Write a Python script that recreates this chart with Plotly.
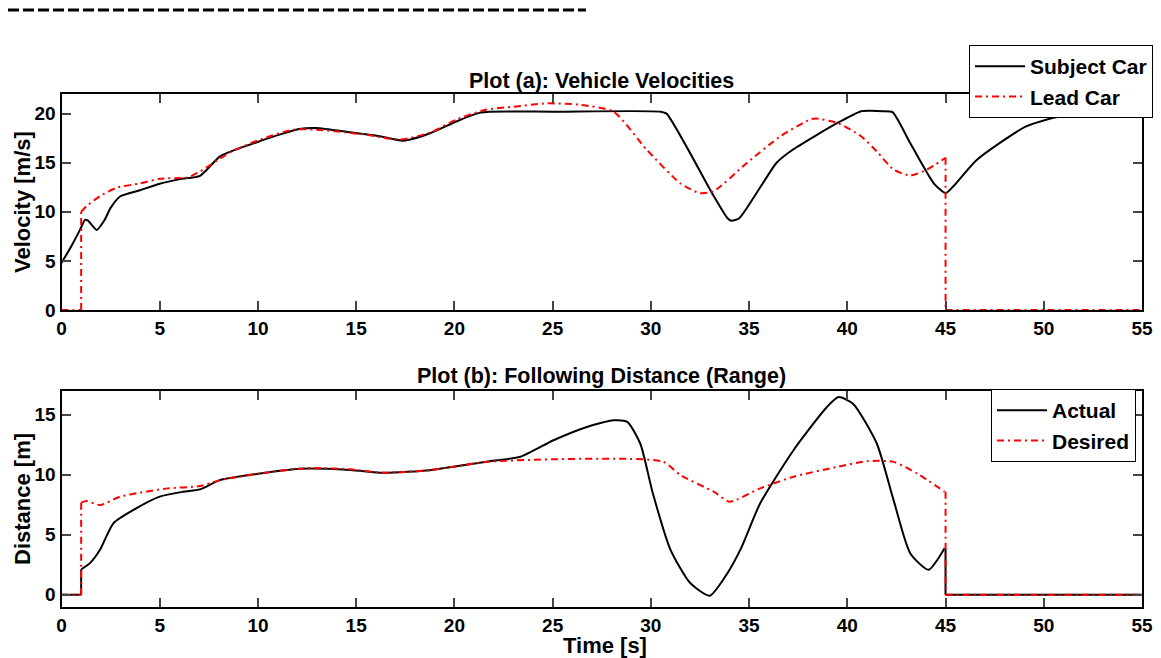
import plotly.graph_objects as go

# ---------------- data ----------------
# Plot (a): velocities [m/s]
subject_t = [0, 0.5, 0.94, 1.2, 1.35, 1.79, 2.2, 2.5, 2.98, 4.0, 5.0, 6.03, 7.05, 8.07, 9.09,
             10.1, 11.1, 12.1, 12.96, 14.7, 16.2, 17.4, 18.76, 20.1, 21.3, 21.8, 25.0, 30.5,
             30.8, 33.2, 33.9, 34.1, 34.5, 35.6, 36.4, 37.2, 39.5, 40.7, 41.2, 41.8, 42.3, 43.2, 44.4,
             45.0, 45.4, 46.6, 49.1, 50.8, 52.5, 55.0]
subject_v = [4.8, 6.5, 8.16, 9.18, 9.1, 8.16, 9.2, 10.4, 11.56, 12.2, 12.86, 13.33, 13.67, 15.65, 16.5,
             17.2, 17.86, 18.44, 18.54, 18.1, 17.7, 17.25, 18.0, 19.2, 20.1, 20.2, 20.2, 20.2,
             20.0, 11.6, 9.35, 9.1, 9.35, 12.6, 15.0, 16.3, 19.05, 20.25, 20.3, 20.25, 20.15, 17.0, 12.9,
             11.9, 12.6, 15.3, 18.7, 19.7, 20.0, 20.1]

# lead car: None separates the step segments (0 -> jump at 1 s -> smooth -> drop at 45 s -> 0)
lead_t = [0, 1, None, 1, 1, None,
          1, 1.28, 1.96, 2.8, 4.0, 5.0, 6.4, 7.05, 8.58, 10.1, 11.8, 12.96, 15.5, 17.2, 18.8,
          20.1, 21.6, 23.0, 24.7, 26.4, 28.1, 29.8, 31.5, 32.5, 33.2, 34.9, 36.6, 38.1, 38.4,
          39.5, 40.7, 41.5, 42.35, 43.2, 44.05, 45.0, None,
          45, 45, None, 45, 55]
lead_v = [0, 0, None, 0, 10, None,
          10, 10.6, 11.6, 12.45, 12.9, 13.37, 13.5, 14.1, 16.05, 17.35, 18.37, 18.37, 17.86, 17.35, 18.1,
          19.4, 20.4, 20.7, 21.05, 20.9, 20.2, 16.3, 12.9, 11.9, 12.1, 15.0, 17.7, 19.4, 19.5,
          19.05, 17.7, 16.15, 14.3, 13.7, 14.3, 15.5, None,
          15.5, 0, None, 0, 0]

# Plot (b): following distance [m]
actual_t = [0, 1, None, 1, 1, None,
            1, 1.45, 1.96, 2.64, 3.66, 5.0, 6.2, 7.05, 8.07, 10.1, 12.1, 14.7, 16.4, 18.76,
            20.1, 21.8, 23.35, 25.04, 26.74, 28.1, 28.8, 29.46, 30.1, 31.0, 32.0, 33.0, 33.9,
            34.6, 35.56, 37.26, 38.96, 39.55, 40.3, 41.5, 42.35, 43.2, 44.13, 44.95, None,
            45, 45, None, 45, 55]
actual_d = [0, 0, None, 0, 2.1, None,
            2.1, 2.63, 3.74, 5.95, 7.06, 8.17, 8.58, 8.78, 9.55, 10.1, 10.5, 10.4, 10.16, 10.38,
            10.71, 11.13, 11.49, 12.87, 13.98, 14.53, 14.4, 12.6, 8.45, 3.74, 0.97, -0.08, 1.8,
            3.9, 7.6, 12.04, 15.64, 16.47, 15.9, 12.6, 7.9, 3.46, 2.08, 3.88, None,
            3.88, 0, None, 0, 0]

desired_t = [0, 1, None, 1, 1, None,
             1, 1.28, 1.96, 2.98, 4.0, 5.4, 7.05, 8.07, 10.1, 12.1, 13.0, 14.7, 16.4, 18.76,
             20.1, 21.8, 30.6, 31.5, 33.2, 34.0, 35.56, 37.26, 39.5, 41.0, 42.35, 43.55, 44.95, None,
             45, 45, None, 45, 55]
desired_d = [0, 0, None, 0, 7.67, None,
             7.67, 7.8, 7.47, 8.17, 8.5, 8.86, 9.05, 9.55, 10.1, 10.5, 10.55, 10.45, 10.16, 10.38,
             10.71, 11.1, 11.1, 9.97, 8.58, 7.75, 8.86, 9.83, 10.66, 11.13, 11.07, 10.1, 8.58, None,
             8.58, 0, None, 0, 0]

x_ticks = [0, 5, 10, 15, 20, 25, 30, 35, 40, 45, 50, 55]
v_ticks = [0, 5, 10, 15, 20]
d_ticks = [0, 5, 10, 15]

# ---------------- figure ----------------
W, H = 1161, 658
FONT = "Liberation Sans, Arial, Helvetica, sans-serif"
RED_DASH = "7px,4px,2px,4px"
SMOOTH = 0.6


def px_x(p):
    return p / W


def px_y(p):
    return 1 - p / H


fig = go.Figure()

fig.add_trace(go.Scatter(x=subject_t, y=subject_v, name="Subject Car", mode="lines",
                         line=dict(color="black", width=2, shape="spline", smoothing=SMOOTH),
                         xaxis="x", yaxis="y", legend="legend"))
fig.add_trace(go.Scatter(x=lead_t, y=lead_v, name="Lead Car", mode="lines", connectgaps=False,
                         line=dict(color="red", width=2, dash=RED_DASH, shape="spline", smoothing=SMOOTH),
                         xaxis="x", yaxis="y", legend="legend"))
fig.add_trace(go.Scatter(x=actual_t, y=actual_d, name="Actual", mode="lines", connectgaps=False,
                         line=dict(color="black", width=2, shape="spline", smoothing=SMOOTH),
                         xaxis="x2", yaxis="y2", legend="legend2"))
fig.add_trace(go.Scatter(x=desired_t, y=desired_d, name="Desired", mode="lines", connectgaps=False,
                         line=dict(color="red", width=2, dash=RED_DASH, shape="spline", smoothing=SMOOTH),
                         xaxis="x2", yaxis="y2", legend="legend2"))

tickfont = dict(family=FONT, size=19, color="black", weight="bold")
common_axis = dict(showline=True, linecolor="black", linewidth=2, mirror="ticks",
                   ticks="inside", ticklen=9, tickwidth=1.5, tickcolor="#444",
                   showgrid=False, zeroline=False, tickfont=tickfont, ticklabelstandoff=0,
                   automargin=False)

legend_font = dict(family=FONT, size=21, color="black", weight="bold")
xdom = [px_x(61.5), px_x(1142)]
fig.update_layout(
    width=W, height=H,
    margin=dict(l=0, r=0, t=0, b=0, pad=0, autoexpand=False),
    paper_bgcolor="white", plot_bgcolor="white",
    font=dict(family=FONT, color="black"),
    xaxis=dict(domain=xdom, range=[0, 55], tickvals=x_ticks, anchor="y", **common_axis),
    yaxis=dict(domain=[px_y(310), px_y(94)], range=[0, 22], tickvals=v_ticks, anchor="x", **common_axis),
    xaxis2=dict(domain=xdom, range=[0, 55], tickvals=x_ticks, anchor="y2", **common_axis),
    yaxis2=dict(domain=[px_y(606.7), px_y(390.7)], range=[-1, 17], tickvals=d_ticks, anchor="x2", **common_axis),
    legend=dict(x=px_x(1153), y=px_y(45), xanchor="right", yanchor="top", itemwidth=50,
                bgcolor="white", bordercolor="black", borderwidth=1, font=legend_font),
    legend2=dict(x=px_x(1136), y=px_y(389), xanchor="right", yanchor="top", itemwidth=50,
                 bgcolor="white", bordercolor="black", borderwidth=1, font=legend_font),
    showlegend=True,
)

title_font = dict(family=FONT, size=21.5, color="black", weight="bold")
label_font = dict(family=FONT, size=22, color="black", weight="bold")
fig.add_annotation(text="Plot (a): Vehicle Velocities", xref="paper", yref="paper",
                   x=px_x(601.7), y=px_y(81), xanchor="center", yanchor="middle",
                   showarrow=False, font=title_font)
fig.add_annotation(text="Plot (b): Following Distance (Range)", xref="paper", yref="paper",
                   x=px_x(601.7), y=px_y(376), xanchor="center", yanchor="middle",
                   showarrow=False, font=title_font)
fig.add_annotation(text="Velocity [m/s]", xref="paper", yref="paper", textangle=-90,
                   x=px_x(22), y=px_y(202), xanchor="center", yanchor="middle",
                   showarrow=False, font=label_font)
fig.add_annotation(text="Distance [m]", xref="paper", yref="paper", textangle=-90,
                   x=px_x(22), y=px_y(499), xanchor="center", yanchor="middle",
                   showarrow=False, font=label_font)
fig.add_annotation(text="Time [s]", xref="paper", yref="paper",
                   x=px_x(605), y=px_y(645), xanchor="center", yanchor="middle",
                   showarrow=False, font=label_font)

# dashed rule at the very top-left of the page
fig.add_shape(type="line", xref="paper", yref="paper",
              x0=px_x(8), x1=px_x(586), y0=px_y(10), y1=px_y(10),
              line=dict(color="black", width=3, dash="11px,4px"))

fig.write_html("out.html")
